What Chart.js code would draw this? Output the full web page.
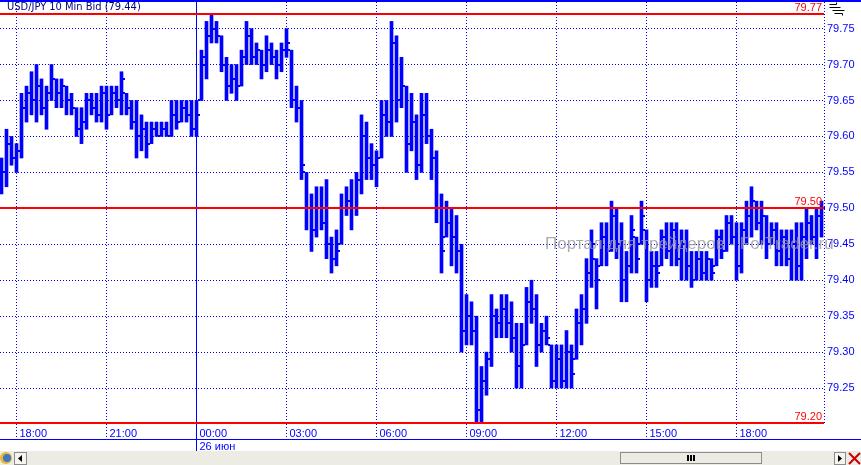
<!DOCTYPE html>
<html><head><meta charset="utf-8">
<script src="https://cdn.jsdelivr.net/npm/chart.js@4/dist/chart.umd.min.js"></script>
<style>html,body{margin:0;padding:0;background:#fff;overflow:hidden}canvas{display:block}</style>
</head><body>
<canvas id="c" width="861" height="465"></canvas>
<script>
// ---- data (USD/JPY 10-minute bars) ----
const highs = [
 79.57,79.61,79.60,79.59,79.66,79.67,79.69,79.70,79.68,79.67,
 79.70,79.68,79.68,79.67,79.66,79.64,79.64,79.66,79.66,79.66,
 79.67,79.67,79.67,79.67,79.69,79.66,79.65,79.65,79.63,79.62,
 79.62,79.62,79.62,79.62,79.65,79.65,79.65,79.65,79.65,79.65,
 79.72,79.76,79.77,79.76,79.74,79.71,79.70,79.70,79.72,79.76,
 79.75,79.73,79.72,79.74,79.73,79.72,79.73,79.75,79.72,79.67,
 79.65,79.55,79.52,79.53,79.53,79.54,79.46,79.47,79.52,79.53,
 79.54,79.55,79.63,79.62,79.59,79.58,79.65,79.65,79.76,79.74,
 79.71,79.67,79.66,79.63,79.66,79.66,79.61,79.58,79.52,79.51,
 79.50,79.49,79.45,79.38,79.37,79.35,79.28,79.30,79.38,79.36,
 79.38,79.38,79.37,79.34,79.34,79.39,79.40,79.38,79.34,79.35,
 79.31,79.31,79.31,79.33,79.31,79.36,79.38,79.43,79.47,79.43,
 79.48,79.48,79.51,79.50,79.48,79.44,79.49,79.46,79.51,79.47,
 79.44,79.44,79.47,79.48,79.48,79.48,79.47,79.47,79.44,79.44,
 79.44,79.44,79.43,79.47,79.47,79.49,79.49,79.48,79.48,79.51,
 79.53,79.51,79.51,79.49,79.48,79.48,79.47,79.47,79.47,79.48,
 79.48,79.50,79.49,79.50,79.51];
const lows = [
 79.52,79.53,79.56,79.55,79.57,79.62,79.63,79.62,79.63,79.61,
 79.65,79.64,79.64,79.63,79.63,79.60,79.59,79.61,79.63,79.62,
 79.62,79.61,79.63,79.64,79.63,79.63,79.61,79.57,79.58,79.57,
 79.59,79.60,79.60,79.60,79.60,79.61,79.62,79.62,79.60,79.60,
 79.65,79.68,79.73,79.73,79.69,79.65,79.66,79.65,79.67,79.70,
 79.70,79.70,79.68,79.69,79.70,79.68,79.69,79.71,79.64,79.62,
 79.54,79.47,79.44,79.46,79.47,79.43,79.41,79.42,79.45,79.49,
 79.47,79.49,79.52,79.54,79.54,79.53,79.57,79.60,79.60,79.62,
 79.64,79.55,79.58,79.54,79.55,79.59,79.54,79.48,79.41,79.46,
 79.42,79.41,79.30,79.31,79.31,79.20,79.20,79.24,79.28,79.32,
 79.32,79.32,79.30,79.25,79.25,79.31,79.34,79.28,79.30,79.31,
 79.25,79.25,79.25,79.25,79.25,79.29,79.31,79.34,79.39,79.36,
 79.42,79.42,79.44,79.43,79.37,79.37,79.41,79.41,79.45,79.37,
 79.39,79.39,79.42,79.43,79.42,79.42,79.40,79.40,79.39,79.40,
 79.40,79.40,79.40,79.42,79.43,79.44,79.45,79.40,79.41,79.45,
 79.46,79.47,79.45,79.43,79.45,79.42,79.42,79.42,79.40,79.40,
 79.40,79.43,79.45,79.43,79.46];
const opens = [
 79.53,79.55,79.59,79.57,79.58,79.64,79.66,79.65,79.67,79.64,
 79.66,79.68,79.66,79.67,79.65,79.64,79.61,79.62,79.65,79.64,
 79.63,79.66,79.63,79.66,79.65,79.66,79.64,79.62,79.60,79.61,
 79.59,79.61,79.60,79.61,79.60,79.63,79.62,79.64,79.63,79.61,
 79.65,79.70,79.74,79.75,79.74,79.70,79.67,79.68,79.67,79.71,
 79.74,79.71,79.72,79.70,79.72,79.71,79.70,79.72,79.72,79.65,
 79.64,79.55,79.50,79.47,79.50,79.48,79.45,79.43,79.45,79.50,
 79.51,79.50,79.54,79.60,79.57,79.56,79.57,79.63,79.62,79.73,
 79.65,79.67,79.59,79.62,79.56,79.63,79.60,79.57,79.50,79.46,
 79.48,79.46,79.44,79.33,79.35,79.33,79.22,79.26,79.29,79.35,
 79.34,79.36,79.34,79.32,79.28,79.31,79.37,79.36,79.31,79.33,
 79.31,79.26,79.29,79.26,79.30,79.29,79.34,79.36,79.41,79.43,
 79.42,79.46,79.44,79.49,79.45,79.40,79.42,79.46,79.45,79.47,
 79.40,79.42,79.42,79.46,79.44,79.47,79.43,79.45,79.42,79.40,
 79.43,79.41,79.43,79.42,79.46,79.44,79.48,79.46,79.42,79.47,
 79.49,79.51,79.48,79.49,79.45,79.47,79.44,79.46,79.43,79.45,
 79.42,79.46,79.48,79.46,79.49];
const closes = [
 79.55,79.59,79.57,79.58,79.64,79.66,79.65,79.67,79.64,79.66,
 79.68,79.66,79.67,79.65,79.64,79.61,79.62,79.65,79.64,79.63,
 79.66,79.63,79.66,79.65,79.68,79.64,79.62,79.60,79.61,79.59,
 79.61,79.60,79.61,79.60,79.63,79.62,79.64,79.63,79.61,79.63,
 79.71,79.74,79.75,79.74,79.70,79.67,79.68,79.67,79.71,79.74,
 79.71,79.72,79.70,79.72,79.71,79.70,79.72,79.73,79.65,79.64,
 79.56,79.50,79.47,79.50,79.48,79.45,79.43,79.44,79.50,79.51,
 79.50,79.54,79.60,79.57,79.56,79.57,79.63,79.62,79.73,79.65,
 79.67,79.59,79.62,79.56,79.63,79.60,79.57,79.50,79.44,79.48,
 79.46,79.44,79.33,79.35,79.33,79.22,79.26,79.29,79.35,79.34,
 79.36,79.34,79.32,79.28,79.31,79.37,79.36,79.31,79.33,79.32,
 79.26,79.29,79.26,79.30,79.27,79.34,79.36,79.41,79.45,79.40,
 79.46,79.44,79.49,79.45,79.40,79.42,79.47,79.43,79.49,79.40,
 79.42,79.41,79.46,79.44,79.47,79.43,79.45,79.42,79.40,79.43,
 79.41,79.43,79.41,79.46,79.44,79.48,79.46,79.42,79.47,79.49,
 79.51,79.48,79.50,79.45,79.47,79.44,79.46,79.43,79.45,79.42,
 79.46,79.48,79.46,79.49,79.50];
const tickBars   = [3, 21, 39, 57, 75, 93, 111, 129, 147];
const tickLabels = ['18:00','21:00',['00:00','26 июн'],'03:00','06:00','09:00','12:00','15:00','18:00'];
const dayBreakBar = 39;
const yTicks = [79.25,79.30,79.35,79.40,79.45,79.50,79.55,79.60,79.65,79.70,79.75];
const refLines = [79.77, 79.50, 79.20];
const titleText = 'USD/JPY 10 Min Bid (79.44)';
const watermark = 'Портал для трейдеров - ForTrader.ru';

// ---- styling ----
const FONT = '"Liberation Sans", Arial, sans-serif';
const BLUE = '#0000ff';

const decor = {
  id: 'decor',
  beforeDraw(chart) {
    const ctx = chart.ctx;
    ctx.save(); ctx.fillStyle = '#fff'; ctx.fillRect(0, 0, chart.width, chart.height); ctx.restore();
  },
  beforeDatasetsDraw(chart) {
    const {ctx, chartArea: a, scales: {x}} = chart;
    ctx.save();
    ctx.strokeStyle = BLUE; ctx.lineWidth = 1; ctx.setLineDash([1, 2]);
    ctx.beginPath(); ctx.moveTo(a.right + 0.5, 2); ctx.lineTo(a.right + 0.5, a.bottom); ctx.stroke();
    ctx.setLineDash([]);
    const dx = Math.floor(x.getPixelForValue(dayBreakBar)) + 0.5;
    ctx.beginPath(); ctx.moveTo(dx, 2); ctx.lineTo(dx, 451); ctx.stroke();
    ctx.restore();
  },
  afterDatasetsDraw(chart) {
    const {ctx, chartArea: a, scales: {x, y}} = chart;
    ctx.save();
    ctx.fillStyle = BLUE;
    for (let i = 0; i < highs.length; i++) {
      const left = Math.round(x.getPixelForValue(i) - 1.5);
      const yo = Math.round(y.getPixelForValue(opens[i]));
      const yc = Math.round(y.getPixelForValue(closes[i]));
      ctx.fillRect(left - 2, yo - 1, 2, 2);
      ctx.fillRect(left + 3, yc - 1, 2, 2);
    }
    ctx.font = '11px ' + FONT;
    ctx.textAlign = 'right'; ctx.textBaseline = 'bottom';
    refLines.forEach(v => {
      const yy = Math.min(Math.round(y.getPixelForValue(v)), a.bottom - 1);
      ctx.fillStyle = '#ff0000';
      ctx.fillRect(0, yy - 1, a.right, 2);
      ctx.fillText(v.toFixed(2), a.right - 2, yy - 1);
    });
    ctx.font = '17px ' + FONT;
    ctx.textAlign = 'left'; ctx.textBaseline = 'middle';
    ctx.fillStyle = 'rgba(150,150,150,0.8)';
    ctx.fillText(watermark, 545, 244);
    ctx.restore();
  },
  afterDraw(chart) {
    const ctx = chart.ctx, W = chart.width;
    ctx.save();
    ctx.fillStyle = BLUE; ctx.fillRect(0, 0, W, 2);
    ctx.font = '11px "Liberation Sans Narrow", "DejaVu Sans Condensed", Arial, sans-serif';
    ctx.textAlign = 'left'; ctx.textBaseline = 'top';
    ctx.fillStyle = '#000080'; ctx.fillText(titleText, 7, 2);
    ctx.strokeStyle = '#000'; ctx.lineWidth = 1;
    ctx.beginPath();
    ctx.moveTo(829.5, 4.5); ctx.lineTo(836.5, 4.5); ctx.lineTo(836.5, 2.5);
    ctx.moveTo(829.5, 7.5); ctx.lineTo(840.5, 7.5);
    ctx.moveTo(832.5, 10.5); ctx.lineTo(844.5, 10.5);
    ctx.moveTo(834.5, 13.5); ctx.lineTo(842.5, 13.5); ctx.lineTo(842.5, 15.5);
    ctx.stroke();
    ctx.fillStyle = BLUE; ctx.fillRect(0, 439, W, 1);
    ctx.fillStyle = '#ecebe4'; ctx.fillRect(0, 451, W, 14);
    ctx.fillStyle = '#e8b830'; ctx.beginPath(); ctx.arc(6, 458, 6, 0, Math.PI * 2); ctx.fill();
    ctx.fillStyle = '#3a78c8'; ctx.beginPath(); ctx.arc(7, 458, 4, 0, Math.PI * 2); ctx.fill();
    ctx.fillStyle = '#f5f4ef'; ctx.fillRect(14, 452, 12, 12);
    ctx.strokeStyle = '#8c8c8c'; ctx.strokeRect(14.5, 452.5, 12, 12);
    ctx.fillStyle = '#000'; ctx.beginPath(); ctx.moveTo(18, 458.5); ctx.lineTo(22, 455); ctx.lineTo(22, 462); ctx.fill();
    ctx.fillStyle = '#ecebe4'; ctx.fillRect(620, 452, 142, 11);
    ctx.strokeStyle = '#8c8c8c'; ctx.strokeRect(620.5, 452.5, 141, 11);
    ctx.fillStyle = '#000';
    ctx.fillRect(687, 455, 2, 6); ctx.fillRect(690, 455, 2, 6); ctx.fillRect(693, 455, 2, 6);
    ctx.fillStyle = '#f5f4ef'; ctx.fillRect(834, 452, 12, 12);
    ctx.strokeStyle = '#8c8c8c'; ctx.strokeRect(834.5, 452.5, 11, 12);
    ctx.fillStyle = '#000'; ctx.beginPath(); ctx.moveTo(842, 458.5); ctx.lineTo(838, 455); ctx.lineTo(838, 462); ctx.fill();
    ctx.strokeStyle = '#cc0000'; ctx.lineWidth = 2;
    ctx.beginPath(); ctx.moveTo(849, 453); ctx.lineTo(860, 464); ctx.moveTo(860, 453); ctx.lineTo(849, 464); ctx.stroke();
    ctx.restore();
  }
};

new Chart(document.getElementById('c'), {
  type: 'bar',
  data: {
    datasets: [{
      data: highs.map((h, i) => ({x: i, y: [lows[i], h]})),
      backgroundColor: BLUE,
      borderWidth: 0,
      barThickness: 3,
      grouped: false
    }]
  },
  options: {
    responsive: false,
    animation: false,
    devicePixelRatio: 1,
    layout: {padding: {top: 2, left: 0, right: 0, bottom: 0}},
    plugins: {legend: {display: false}, tooltip: {enabled: false}},
    scales: {
      x: {
        type: 'linear', offset: false, bounds: 'data', min: -0.3, max: 164.5,
        grid: {offset: false, color: BLUE, lineWidth: 1, drawTicks: true, tickLength: 14,
               tickColor: BLUE, tickBorderDash: [1, 2]},
        border: {display: false, dash: [1, 2]},
        afterBuildTicks(s) { s.ticks = tickBars.map(v => ({value: v})); },
        afterFit(s) { s.height = 41; s.paddingLeft = 0; s.paddingRight = 0; },
        ticks: {autoSkip: false, maxRotation: 0, minRotation: 0, align: 'start', labelOffset: 3,
                padding: -11, color: BLUE, font: {family: FONT, size: 11, lineHeight: '13px'},
                callback: (v, i) => tickLabels[i]}
      },
      y: {
        type: 'linear', position: 'right', min: 79.20, max: 79.787, bounds: 'data',
        grid: {color: BLUE, lineWidth: 1, drawTicks: false},
        border: {display: false, dash: [1, 2]},
        afterBuildTicks(s) { s.ticks = yTicks.map(v => ({value: v})); },
        afterFit(s) { s.width = 37; s.paddingTop = 0; s.paddingBottom = 0; },
        ticks: {padding: 3, color: BLUE, font: {family: FONT, size: 11},
                callback: v => Number(v).toFixed(2)}
      }
    }
  },
  plugins: [decor]
});
</script>
</body></html>
